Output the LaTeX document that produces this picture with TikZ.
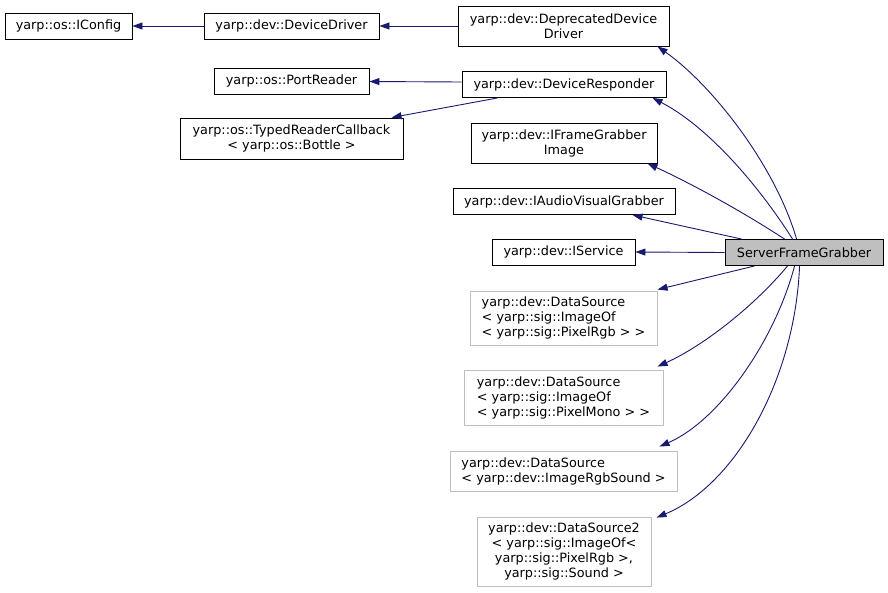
\documentclass[tikz,border=0pt]{standalone}
\usepackage{fontspec}
\setmainfont{DejaVu Sans}
\usetikzlibrary{arrows.meta,calc}
\definecolor{edgeblue}{HTML}{191970}
\definecolor{greyline}{HTML}{BFBFBF}
\definecolor{selfill}{HTML}{BFBFBF}
\tikzset{
  cls/.style={draw=black,line width=0.9pt,fill=white,inner sep=0pt,font=\fontsize{12.8}{15}\selectfont,align=center},
  tmpl/.style={cls,draw=greyline},
  inh/.style={draw=edgeblue,line width=0.9pt,-{Triangle[length=10pt,width=7pt,fill=edgeblue]}},
}
\begin{document}
\begin{tikzpicture}[x=1pt,y=-1pt]
\useasboundingbox (0,0) rectangle (888,592);
\fill[white] (0,0) rectangle (888,592);
\node[cls,minimum width=127pt,minimum height=26pt] (iconfig) at (68.5,26) {yarp::os::IConfig};
\node[cls,minimum width=175pt,minimum height=26pt] (dd) at (291.5,26) {yarp::dev::DeviceDriver};
\node[cls,minimum width=211pt,minimum height=40pt] (ddd) at (563.5,26) {yarp::dev::DeprecatedDevice\\Driver};
\node[cls,minimum width=155pt,minimum height=26pt] (pr) at (291.5,81) {yarp::os::PortReader};
\node[cls,minimum width=204pt,minimum height=26pt] (dr) at (564,84.5) {yarp::dev::DeviceResponder};
\node[cls,minimum width=223pt,minimum height=41pt] (trc) at (291.5,138.5) {yarp::os::TypedReaderCallback\\< yarp::os::Bottle >};
\node[cls,minimum width=186pt,minimum height=40pt] (ifg) at (564,143) {yarp::dev::IFrameGrabber\\Image};
\node[cls,minimum width=222pt,minimum height=26pt] (iavg) at (564,201.5) {yarp::dev::IAudioVisualGrabber};
\node[cls,minimum width=143pt,minimum height=26pt] (isvc) at (563.5,252) {yarp::dev::IService};
\node[cls,fill=selfill,minimum width=158pt,minimum height=26pt] (sfg) at (804,252.5) {ServerFrameGrabber};
\node[tmpl,align=left,minimum width=187pt,minimum height=54pt] (ds1) at (563.5,318) {yarp::dev::DataSource\\< yarp::sig::ImageOf\\< yarp::sig::PixelRgb > >};
\node[tmpl,align=left,minimum width=199pt,minimum height=55pt] (ds2) at (563.5,397.5) {yarp::dev::DataSource\\< yarp::sig::ImageOf\\< yarp::sig::PixelMono > >};
\node[tmpl,align=left,minimum width=227pt,minimum height=40pt] (ds3) at (563.5,471) {yarp::dev::DataSource\\< yarp::dev::ImageRgbSound >};
\node[tmpl,minimum width=174pt,minimum height=69pt] (ds4) at (564,551.5) {yarp::dev::DataSource2\\< yarp::sig::ImageOf<\\yarp::sig::PixelRgb >,\\yarp::sig::Sound >};
% left part
\draw[inh] (dd.west) -- (iconfig.east);
\draw[inh] (ddd.west) -- (dd.east);
\draw[inh] ($(dr.west)+(0,-2.5)$) -- ($(pr.east)+(0,0.5)$);
\draw[inh] ($(dr.south west)+(36,0)$) -- ($(trc.north west)+(212,0)$);
% from ServerFrameGrabber
\draw[inh] ($(sfg.north west)+(72,0)$) .. controls (775,165) and (712,85) .. ($(ddd.south west)+(200,0)$);
\draw[inh] ($(sfg.north west)+(68,0)$) .. controls (755,180) and (705,125) .. ($(dr.south west)+(191,0)$);
\draw[inh] ($(sfg.north west)+(60,0)$) .. controls (740,210) and (690,183) .. ($(ifg.south west)+(177,0)$);
\draw[inh] ($(sfg.north west)+(17,0)$) -- ($(iavg.south west)+(180,0)$);
\draw[inh] (sfg.west) -- (isvc.east);
\draw[inh] ($(sfg.south west)+(30,0)$) -- ($(ds1.north west)+(188,-1)$);
\draw[inh] ($(sfg.south west)+(63,0)$) .. controls (755,305) and (705,345) .. ($(ds2.north west)+(194,-3)$);
\draw[inh] ($(sfg.south west)+(70,0)$) .. controls (775,340) and (720,420) .. ($(ds3.north west)+(210,-4)$);
\draw[inh] ($(sfg.south west)+(75,0)$) .. controls (795,380) and (735,485) .. ($(ds4.north west)+(180,1)$);
\end{tikzpicture}
\end{document}
